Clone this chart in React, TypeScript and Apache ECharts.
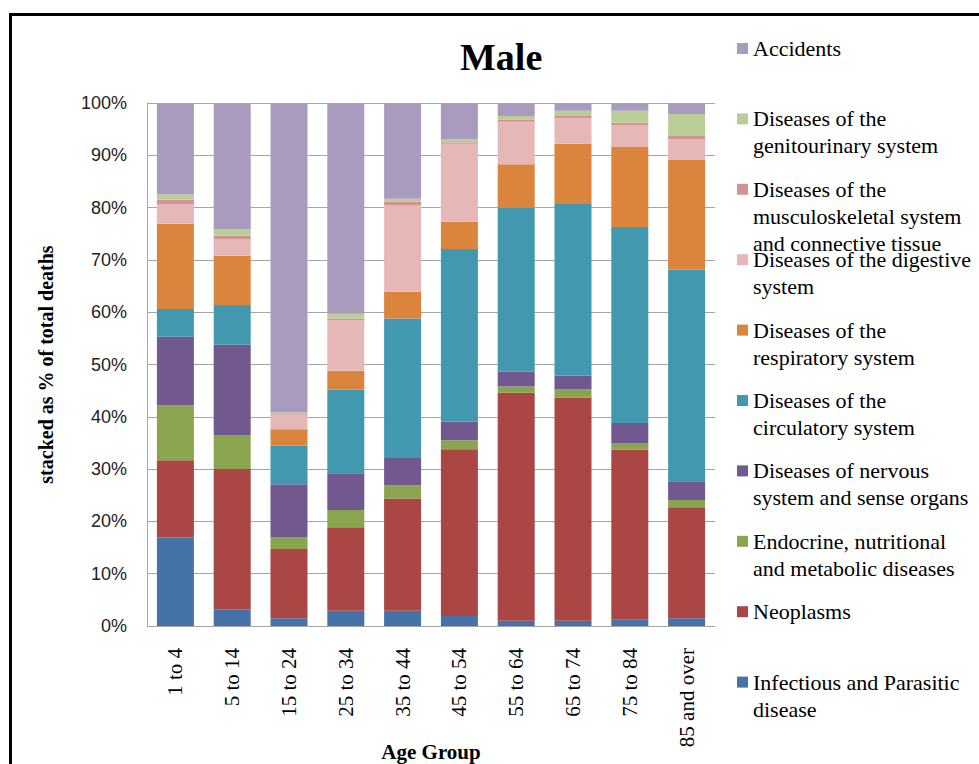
import React, { useEffect, useRef } from "react";
import * as echarts from "echarts";

// Age bands along the x axis
const ageGroups = [
  "1 to 4",
  "5 to 14",
  "15 to 24",
  "25 to 34",
  "35 to 44",
  "45 to 54",
  "55 to 64",
  "65 to 74",
  "75 to 84",
  "85 and over",
];

// Share of total male deaths (%) per cause, one value per age band
const infectious = [16.9, 3.2, 1.5, 2.9, 2.9, 1.9, 1.0, 1.0, 1.3, 1.5];
const neoplasms = [14.8, 26.8, 13.2, 16.0, 21.5, 31.9, 43.6, 42.7, 32.4, 21.2];
const endocrine = [10.5, 6.5, 2.3, 3.3, 2.5, 1.7, 1.2, 1.5, 1.3, 1.4];
const nervous = [13.1, 17.3, 10.1, 7.0, 5.2, 3.6, 2.8, 2.7, 3.8, 3.6];
const circulatory = [5.3, 7.6, 7.4, 16.0, 26.7, 33.0, 31.3, 32.8, 37.5, 40.4];
const respiratory = [16.3, 9.4, 3.1, 3.6, 5.1, 5.2, 8.4, 11.5, 15.3, 21.0];
const digestive = [3.7, 3.2, 2.7, 9.6, 16.5, 14.9, 8.1, 4.9, 4.1, 4.0];
const musculoskeletal = [0.9, 0.6, 0.2, 0.4, 0.7, 0.3, 0.4, 0.4, 0.5, 0.6];
const genitourinary = [1.0, 1.2, 0.3, 0.9, 0.6, 0.6, 0.7, 1.0, 2.3, 4.2];
const accidents = [17.5, 24.2, 59.2, 40.3, 18.3, 6.9, 2.5, 1.5, 1.5, 2.1];

// Y-axis ticks (percent)
const yTicks = [0, 10, 20, 30, 40, 50, 60, 70, 80, 90, 100];

// Stack order, bottom to top; legend label lines are wrapped as in the key
const causes = [
  { name: "Infectious and Parasitic disease", lines: ["Infectious and Parasitic", "disease"], data: infectious, color: "#4572A7" },
  { name: "Neoplasms", lines: ["Neoplasms"], data: neoplasms, color: "#AA4643" },
  { name: "Endocrine, nutritional and metabolic diseases", lines: ["Endocrine, nutritional", "and metabolic diseases"], data: endocrine, color: "#89A54E" },
  { name: "Diseases of nervous system and sense organs", lines: ["Diseases of nervous", "system and sense organs"], data: nervous, color: "#71588F" },
  { name: "Diseases of the circulatory system", lines: ["Diseases of the", "circulatory system"], data: circulatory, color: "#4198AF" },
  { name: "Diseases of the respiratory system", lines: ["Diseases of the", "respiratory system"], data: respiratory, color: "#DB843D" },
  { name: "Diseases of the digestive system", lines: ["Diseases of the digestive", "system"], data: digestive, color: "#E6B7B7" },
  { name: "Diseases of the musculoskeletal system and connective tissue", lines: ["Diseases of the", "musculoskeletal system", "and connective tissue"], data: musculoskeletal, color: "#D49393" },
  { name: "Diseases of the genitourinary system", lines: ["Diseases of the", "genitourinary system"], data: genitourinary, color: "#B9CD96" },
  { name: "Accidents", lines: ["Accidents"], data: accidents, color: "#A99BBD" },
];

const SERIF = "'Liberation Serif', 'Times New Roman', serif";
const SANS = "'Liberation Sans', Arial, sans-serif";
const GRID_GRAY = "#A6A6A6";

// Legend key layout: one slot per cause, top slot = last stacked series
const LEGEND_FIRST_CENTER = 48.5;
const LEGEND_STEP = 70.4;
const LEGEND_LINE = 27;

export default function App() {
  const ref = useRef<HTMLDivElement>(null);

  useEffect(() => {
    if (!ref.current) return;
    const chart = echarts.init(ref.current, undefined, { renderer: "svg" });

    const legendOrder = [...causes].reverse();
    const legends = legendOrder.map((c, i) => {
      const n = c.lines.length;
      const center = LEGEND_FIRST_CENTER + LEGEND_STEP * i;
      // the text block is centred on the marker, so leading blank lines
      // bring the first written line level with it
      const top = center - ((2 * n - 1) * LEGEND_LINE) / 2;
      const text = "\n".repeat(n - 1) + c.lines.join("\n");
      return {
        data: [c.name],
        orient: "vertical",
        left: 737,
        top,
        padding: 0,
        icon: "rect",
        itemWidth: 11,
        itemHeight: 11,
        selectedMode: false,
        formatter: () => text,
        textStyle: {
          fontFamily: SERIF,
          fontSize: 22,
          color: "#000",
          lineHeight: LEGEND_LINE,
        },
      };
    });

    chart.setOption({
      animation: false,
      backgroundColor: "#fff",
      title: {
        text: "Male",
        left: 460,
        top: 38,
        padding: 0,
        textStyle: { fontFamily: SERIF, fontWeight: "bold", fontSize: 38, color: "#000" },
      },
      graphic: [
        {
          type: "rect",
          silent: true,
          z: -10,
          shape: { x: 10.5, y: 14.5, width: 1000, height: 800 },
          style: { fill: "none", stroke: "#000", lineWidth: 3 },
        },
      ],
      legend: legends,
      grid: {
        left: 147,
        right: 264,
        top: 103,
        bottom: 138,
        containLabel: false,
        outerBoundsMode: "none",
      },
      xAxis: {
        type: "category",
        data: ageGroups,
        axisLine: { show: true, lineStyle: { color: GRID_GRAY, width: 1 } },
        axisTick: { show: false },
        axisLabel: {
          rotate: 90,
          margin: 22,
          fontFamily: SERIF,
          fontSize: 21,
          color: "#000",
        },
        name: "Age Group",
        nameLocation: "middle",
        nameGap: 115,
        nameMoveOverlap: false,
        nameTextStyle: { fontFamily: SERIF, fontWeight: "bold", fontSize: 21, color: "#000" },
      },
      yAxis: {
        type: "value",
        min: yTicks[0],
        max: yTicks[yTicks.length - 1],
        interval: yTicks[1] - yTicks[0],
        axisLine: { show: true, lineStyle: { color: GRID_GRAY, width: 1 } },
        axisTick: { show: false },
        splitLine: { show: true, lineStyle: { color: GRID_GRAY, width: 1 } },
        axisLabel: {
          formatter: "{value}%",
          margin: 20,
          fontFamily: SANS,
          fontSize: 18,
          color: "#222",
        },
        name: "stacked as % of total deaths",
        nameLocation: "middle",
        nameGap: 91,
        nameMoveOverlap: false,
        nameTextStyle: { fontFamily: SERIF, fontWeight: "bold", fontSize: 20, color: "#000" },
      },
      series: causes.map((c) => ({
        name: c.name,
        type: "bar",
        stack: "total",
        barWidth: 37,
        data: c.data,
        itemStyle: { color: c.color },
        emphasis: { disabled: true },
      })),
    });

    return () => chart.dispose();
  }, []);

  return (
    <div
      ref={ref}
      style={{ position: "fixed", left: 0, top: 0, width: 979, height: 764, background: "#fff" }}
    />
  );
}
